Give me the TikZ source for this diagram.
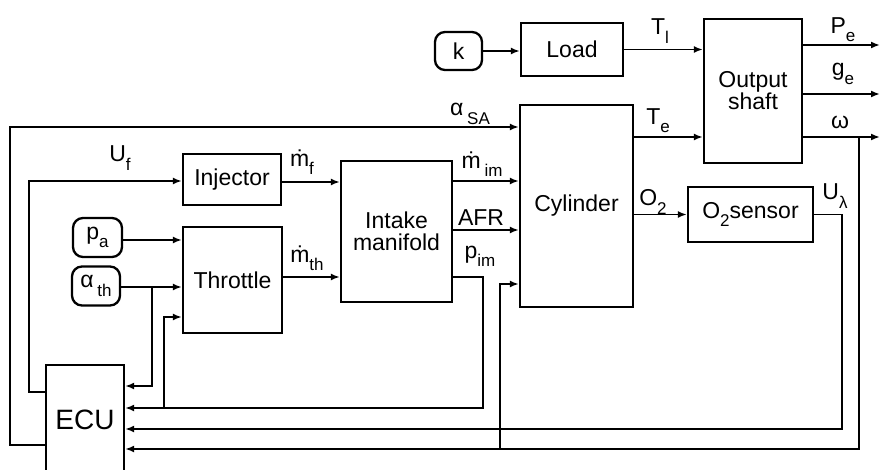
\documentclass[tikz,border=0pt]{standalone}
\usepackage{fontspec}
\setmainfont{Liberation Sans}
\usetikzlibrary{arrows.meta}
\newcommand{\lsub}[1]{\raisebox{-0.36em}{\fontsize{17}{17}\selectfont #1}}
\begin{document}
\begin{tikzpicture}[x=1pt,y=-1pt,
  blk/.style={draw, line width=2.3pt, inner sep=0pt, align=center, font=\fontsize{23}{25}\selectfont},
  rnd/.style={blk, rounded corners=10pt},
  wire/.style={line width=1.9pt},
  arr/.style={wire, -{Latex[length=9pt,width=7pt]}},
  lbl/.style={inner sep=0pt, font=\fontsize{23}{25}\selectfont}]
\useasboundingbox (0,0) rectangle (882,470);
\fill[white] (0,0) rectangle (882,470);
% blocks
\node[rnd, minimum width=47pt, minimum height=38pt] (k) at (458.5,51) {k};
\node[blk, minimum width=102pt, minimum height=53pt] (load) at (572,49.5) {Load};
\node[blk, minimum width=98pt, minimum height=144pt] (out) at (753,91) {Output\\[-3pt]shaft};
\node[blk, minimum width=113pt, minimum height=202pt] (cyl) at (576.5,206) {Cylinder};
\node[blk, minimum width=125pt, minimum height=55pt] (o2s) at (750.5,214.5) {O\lsub{2}sensor};
\node[blk, minimum width=111pt, minimum height=141pt] (man) at (396.5,231.5) {Intake\\[-3pt]manifold};
\node[blk, minimum width=98pt, minimum height=51pt] (inj) at (232,179.5) {Injector};
\node[blk, minimum width=99pt, minimum height=106pt] (thr) at (232.5,280) {Throttle};
\node[rnd, minimum width=49pt, minimum height=39pt] (pa) at (97.5,237.5) {p\lsub{a}};
\node[rnd, minimum width=48pt, minimum height=39pt] (ath) at (96,286) {α\,\lsub{th}};
\node[blk, minimum width=78pt, minimum height=115pt, font=\fontsize{28}{30}\selectfont] (ecu) at (85,422.5) {\raisebox{6pt}{ECU}};
% free ends
\coordinate (pe) at (880,45);
\coordinate (ge) at (880,94);
\coordinate (om) at (880,137);
% top
\draw[arr] (k.east) -- (k.east -| load.west);
\draw[arr] (load.east) -- (load.east -| out.west);
\draw[arr] (out.east |- pe) -- (pe);
\draw[arr] (out.east |- ge) -- (ge);
\draw[arr] (out.east |- om) -- (om);
\draw[arr] (cyl.east |- om) -- (out.west |- om);
\draw[arr] (cyl.east |- o2s.west) -- (o2s.west);
% intake
\draw[arr] (inj.east |- 0,182) -- (man.west |- 0,182);
\draw[arr] (thr.east |- 0,277) -- (man.west |- 0,277);
\draw[arr] (man.east |- 0,181) -- (cyl.west |- 0,181);
\draw[arr] (man.east |- 0,230) -- (cyl.west |- 0,230);
\draw[arr] (pa.east |- 0,240) -- (thr.west |- 0,240);
\draw[arr] (ath.east |- 0,287) -- (thr.west |- 0,287);
% feedback to ECU
\draw[arr] (152,287) -- (152,386) -- (ecu.east |- 0,386);
\draw[arr] (man.east |- 0,277) -- (483,277) -- (483,408) -- (ecu.east |- 0,408);
\draw[arr] (164,408) -- (164,317) -- (thr.west |- 0,317);
\draw[arr] (o2s.east) -- (842,214.5) -- (842,429) -- (ecu.east |- 0,429);
\draw[arr] (859,137) -- (859,449) -- (ecu.east |- 0,449);
\draw[arr] (500,449) -- (500,284) -- (cyl.west |- 0,284);
% ECU outputs
\draw[arr] (ecu.west |- 0,392) -- (29,392) -- (29,181) -- (inj.west |- 0,181);
\draw[arr] (ecu.west |- 0,445) -- (10,445) -- (10,127) -- (cyl.west |- 0,127);
% labels
\node[lbl] (lUf) at (120,158) {U\lsub{f}};
\node[lbl] (lmf) at (302,162) {\.{m}\lsub{f}};
\node[lbl] (lmth) at (307,258) {\.{m}\lsub{th}};
\node[lbl] (lasa) at (470,114) {α\,\lsub{SA}};
\node[lbl] (lmim) at (482,164) {\.{m}\,\lsub{im}};
\node[lbl] (lafr) at (481,218) {AFR};
\node[lbl] (lpim) at (480,256) {p\lsub{im}};
\node[lbl] (lTe) at (658,121) {T\lsub{e}};
\node[lbl] (lO2) at (653,202) {O\lsub{2}};
\node[lbl] (lTl) at (660,31) {T\lsub{l}};
\node[lbl] (lPe) at (843,30) {P\lsub{e}};
\node[lbl] (lge) at (843,74) {g\lsub{e}};
\node[lbl] (lom) at (840,122) {ω};
\node[lbl] (lUl) at (835,196) {U\lsub{λ}};
\end{tikzpicture}
\end{document}
